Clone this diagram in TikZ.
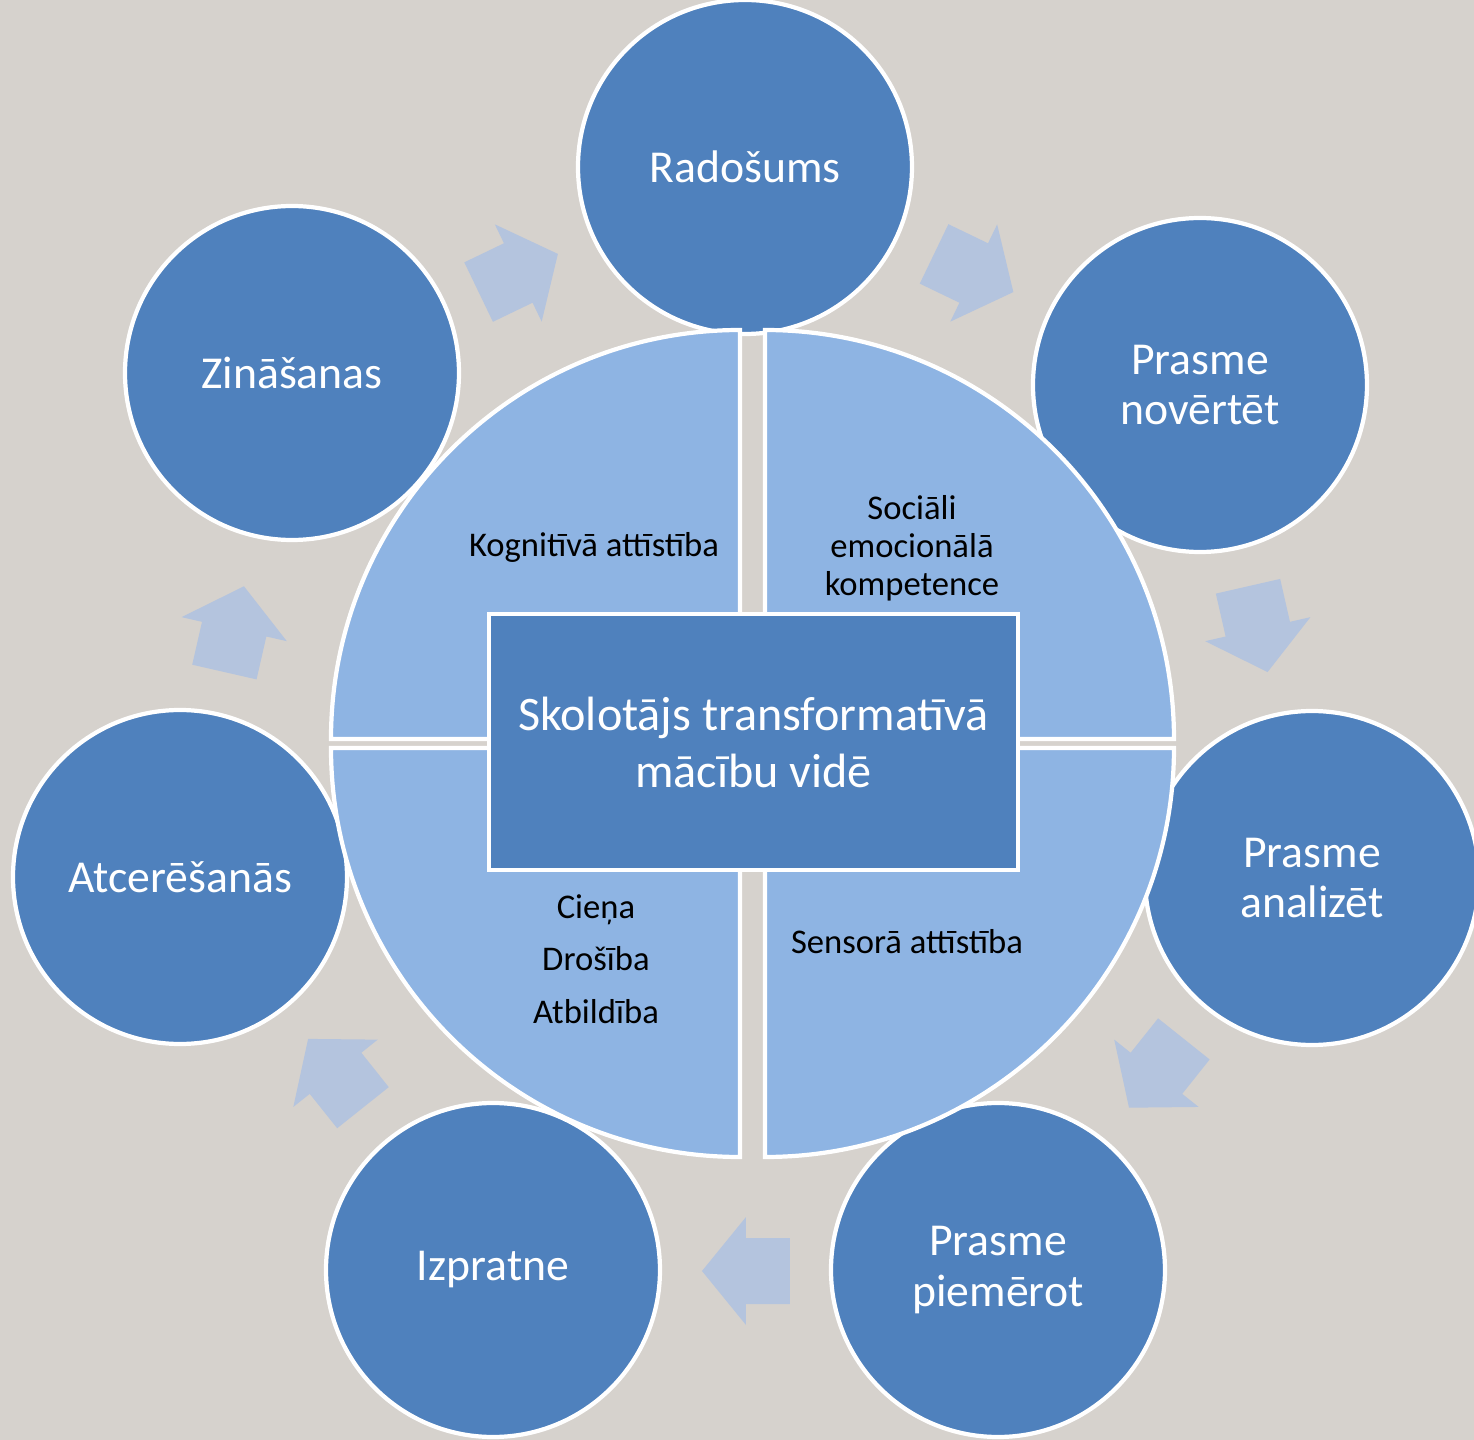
\documentclass[tikz,border=0pt]{standalone}
\usepackage{fontspec}
\setmainfont{Carlito}
\usepackage{xcolor}
\usepackage{tikz}
\usetikzlibrary{calc}

\definecolor{bgstone}{RGB}{214,210,205}
\definecolor{ringblue}{RGB}{79,129,189}
\definecolor{quarterblue}{RGB}{142,180,227}
\definecolor{arrowblue}{RGB}{180,196,222}

\tikzset{
  stage/.style={circle,draw=white,line width=1.2pt,fill=ringblue,minimum size=3.34cm,inner sep=0pt,text=white,align=center,font=\fontsize{13}{14.4}\selectfont},
  quarter/.style={draw=white,line width=1.2pt,fill=quarterblue},
  qtext/.style={align=center,font=\fontsize{9.85}{10.8}\selectfont},
  blockarrow/.style={fill=arrowblue},
}

\begin{document}
\begin{tikzpicture}
        % background
        \fill[bgstone] (-7.46,-6.94) rectangle (7.28,7.46);
        \clip (-7.46,-6.94) rectangle (7.28,7.46);

        % outer ring of circles
        \foreach \name/\pos/\txt in {radosums/{(-0.01,5.79)}/Radošums,novertet/{(4.54,3.61)}/{Prasme\\novērtēt},analizet/{(5.66,-1.32)}/{Prasme\\analizēt},piemerot/{(2.52,-5.24)}/{Prasme\\piemērot},izpratne/{(-2.53,-5.24)}/Izpratne,atceresanas/{(-5.66,-1.31)}/Atcerēšanās,zinasanas/{(-4.54,3.73)}/Zināšanas}
            \node[stage] (\name) at \pos {\txt};

        % arrows between circles
        \foreach \a in {64.29,12.86,-38.57,-90,-141.43,-192.86,-244.29}
            \fill[blockarrow,shift={(\a:5.25)},rotate=\a-90] (-0.44,-0.33) -- (0,-0.33) -- (0,-0.54) -- (0.44,0) -- (0,0.54) -- (0,0.33) -- (-0.44,0.33) -- cycle;

        % four quarters
        \draw[quarter] (-0.06,0.07) -- ++(-4.09,0) arc[start angle=180,end angle=90,radius=4.09] -- cycle;
        \draw[quarter] (0.19,0.07) -- ++(0,4.09) arc[start angle=90,end angle=0,radius=4.09] -- cycle;
        \draw[quarter] (0.19,-0.02) -- ++(4.09,0) arc[start angle=0,end angle=-90,radius=4.09] -- cycle;
        \draw[quarter] (-0.06,-0.02) -- ++(0,-4.09) arc[start angle=270,end angle=180,radius=4.09] -- cycle;

        \node[qtext] (kognitiva) at (-1.52,1.99) {Kognitīvā attīstība};
        \node[qtext] (socemo) at (1.66,1.98) {Sociāli\\emocionālā\\kompetence};
        \node[qtext] (sensora) at (1.61,-1.96) {Sensorā attīstība};
        \node[qtext,font=\fontsize{9.85}{15}\selectfont] (vertibas) at (-1.50,-2.13) {Cieņa\\Drošība\\Atbildība};

        % centre
        \node[draw=white,line width=1.2pt,fill=ringblue,minimum width=5.29cm,minimum height=2.56cm,text=white,align=center,font=\fontsize{13.7}{16.2}\selectfont] (skolotajs) at (0.075,0.04) {Skolotājs transformatīvā\\mācību vidē};
\end{tikzpicture}
\end{document}
